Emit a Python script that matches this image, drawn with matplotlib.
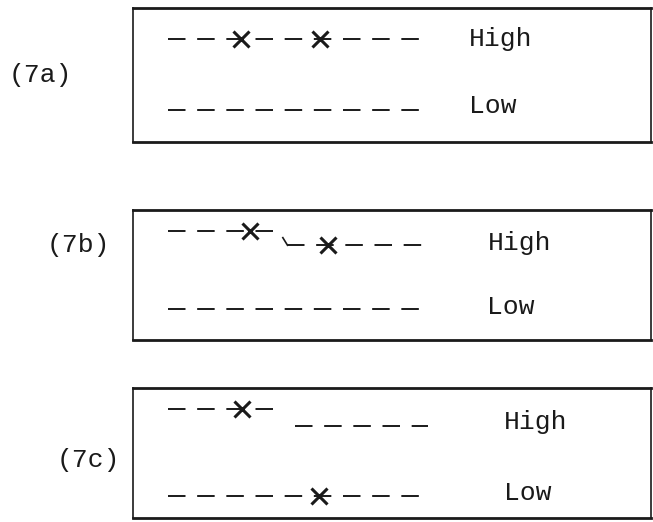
import matplotlib.pyplot as plt

# tone levels: High = 1, Low = 0 (x in syllable-ish units along the line)
panel_names = ['(7a)', '(7b)', '(7c)']

# dashed line pieces for the high row: (x start, x end, level)
high_rows = [
    [(0.0, 10.0, 1.0)],
    [(0.0, 4.2, 1.13), (4.6, 10.0, 0.92)],
    [(0.0, 4.4, 1.13), (4.9, 10.0, 0.88)],
]
low_rows = [
    [(0.0, 10.0, 0.0)],
    [(0.0, 9.8, 0.0)],
    [(0.0, 10.0, -0.13)],
]
# little drop mark in 7b
drop_x = [4.42, 4.6]
drop_y = [1.03, 0.92]

# crosses on the lines
cross_x = [[2.8, 5.85], [3.15, 6.15], [2.85, 5.8]]
cross_y = [[1.0, 1.0], [1.13, 0.92], [1.13, -0.13]]

label_x = [11.6, 12.3, 12.95]
high_label_y = [1.0, 0.95, 0.94]
low_label_y = [0.05, 0.02, -0.09]

W, H = 653, 522
fig = plt.figure(figsize=(W / 100, H / 100), dpi=100)

# box placement in pixels (top, bottom)
boxes = [(8, 142), (210, 340), (388, 518)]
box_left, box_right = 133, 651
name_pos = [(40, 75), (78, 245), (88, 460)]

ink = '#1a1a1a'
font = 'Liberation Mono'

for i in range(3):
    top, bot = boxes[i]
    ax = fig.add_axes([box_left / W, 1 - bot / H, (box_right - box_left) / W, (bot - top) / H])
    ax.set_xlim(-1.35, 18.6)
    ax.set_ylim(-0.45, 1.43)
    ax.set_xticks([])
    ax.set_yticks([])
    for s in ax.spines.values():
        s.set_color(ink)
        s.set_linewidth(1.2)
    ax.spines['top'].set_linewidth(2)
    ax.spines['bottom'].set_linewidth(2)

    for x0, x1, lev in high_rows[i] + low_rows[i]:
        ax.plot([x0, x1], [lev, lev], color=ink, lw=1.4, dashes=(9, 6))
    if i == 1:
        ax.plot(drop_x, drop_y, color=ink, lw=1.2)

    ax.plot(cross_x[i], cross_y[i], 'x', color=ink, ms=12, mew=2.2, ls='none')

    ax.text(label_x[i], high_label_y[i], 'High', fontsize=19, family=font,
            color=ink, va='center', ha='left')
    ax.text(label_x[i], low_label_y[i], 'Low', fontsize=19, family=font,
            color=ink, va='center', ha='left')

    nx, ny = name_pos[i]
    fig.text(nx / W, 1 - ny / H, panel_names[i], fontsize=19, family=font,
             color=ink, va='center', ha='center')

fig.savefig('out.png', dpi=100, facecolor='white')
